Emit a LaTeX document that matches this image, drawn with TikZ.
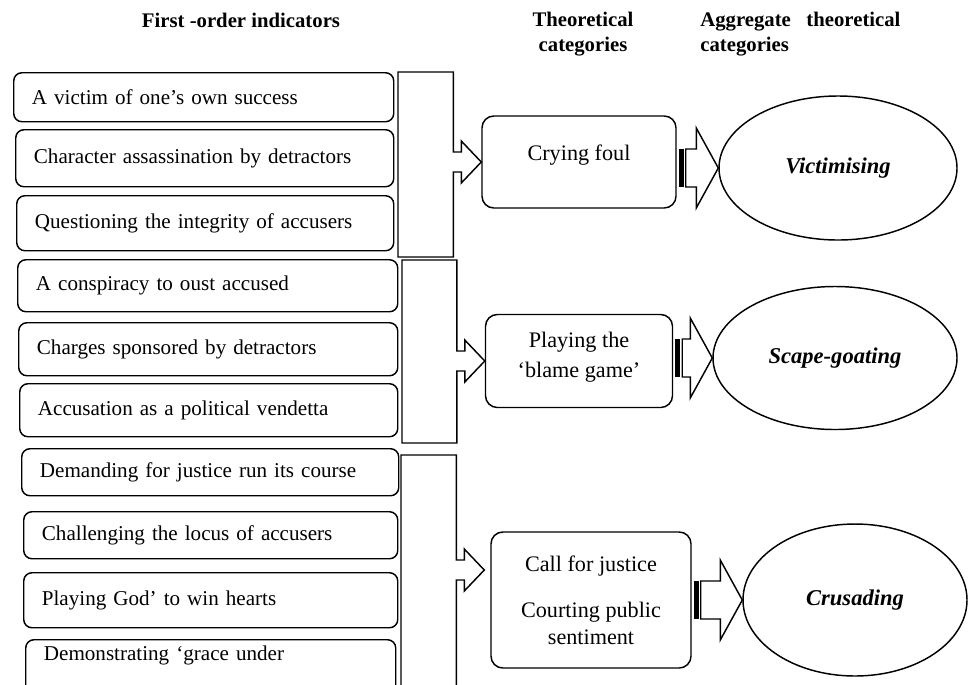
\documentclass[tikz,border=0pt]{standalone}
\usepackage{fontspec}
\setmainfont{Liberation Serif}
\usepackage{tikz}
\usetikzlibrary{shapes.geometric,positioning,calc}

% one pixel of the layout
\newcommand{\pxu}{0.55pt}

% bracket with arrow: left x, top y, bottom y, tip
\newcommand{\bracketarrow}[4]{%
    \draw[bracket] (#1,#2) -| ($(#4)+(-28,-10)$) -- ++(8,0) -- ++(0,-11) -- (#4)
        -- ($(#4)+(-20,21)$) -- ++(0,-11) -- ++(-8,0) |- (#1,#3) -- cycle;}

% striped block arrow from a category to its aggregate
\newcommand{\stripedarrow}[2]{%
    \fill ($(#1.east |- #2.west)+(2,-19)$) rectangle ++(5,38);
    \draw[bracket] ($(#1.east |- #2.west)+(9,-19)$) -| ($(#2.west)+(-22,-40)$) -- (#2.west)
        -- ($(#2.west)+(-22,40)$) |- ($(#1.east |- #2.west)+(9,19)$) -- cycle;}

\begin{document}
\begin{tikzpicture}[
    x=\pxu, y=-\pxu,
    font=\fontsize{11.6}{13.5}\selectfont,
    header/.style={font=\fontsize{11.4}{14}\selectfont\bfseries, inner sep=0pt},
    indicator/.style={draw, line width=0.8pt, rounded corners=4.5pt, anchor=north west,
        text width=#1*\pxu-20pt, inner xsep=10pt, align=left},
    indicator/.default=378,
    category/.style={draw, line width=0.8pt, rounded corners=6.5pt, align=center,
        font=\fontsize{12.2}{16.5}\selectfont},
    aggregate/.style={draw, line width=0.8pt, ellipse, inner sep=0pt,
        font=\fontsize{12.4}{14}\selectfont\bfseries\itshape},
    bracket/.style={draw, line width=0.8pt, fill=white, line join=miter}
]
    \useasboundingbox (0,0) rectangle (968,684);

    % Headers
    \node[header] (h1) at (241,20) {First -order indicators};
    \node[header, align=center] (h2) at (583,34) {Theoretical\\categories};
    \node[header, align=left, anchor=west] (h3) at (700,34) {Aggregate\hspace{0.5em} theoretical\\categories};

    % First-order indicators
    \node[indicator=380, minimum height=49*\pxu] (i1) at (13,72) {A victim of one's own success};
    \node[indicator=378, minimum height=57*\pxu] (i2) at (15,129) {Character assassination by detractors};
    \node[indicator=377, minimum height=55*\pxu] (i3) at (16,195) {Questioning the integrity of accusers};
    \node[indicator=380, minimum height=52*\pxu] (i4) at (17,259) {A conspiracy to oust accused};
    \node[indicator=379, minimum height=53*\pxu] (i5) at (18,322) {Charges sponsored by detractors};
    \node[indicator=378, minimum height=53*\pxu] (i6) at (19,383) {Accusation as a political vendetta};
    \node[indicator=377, minimum height=47*\pxu] (i7) at (21,448) {Demanding for justice run its course};
    \node[indicator=374, minimum height=47*\pxu] (i8) at (23,511) {Challenging the locus of accusers};
    \node[indicator=374, minimum height=55*\pxu] (i9) at (23,572) {Playing God' to win hearts};
    \node[indicator=370, minimum height=60*\pxu] (i10) at (25,639) {Demonstrating `grace under\\[2pt]\strut};

    % Theoretical categories
    \node[category, minimum width=194*\pxu, minimum height=92*\pxu, text depth=10pt] (c1) at (579,162) {Crying foul};
    \node[category, minimum width=187*\pxu, minimum height=93*\pxu, text depth=7pt] (c2) at (579,361) {Playing the\\`blame game'};
    \node[category, minimum width=200*\pxu, minimum height=136*\pxu] (c3) at (591,600) {Call for justice\\[9pt]Courting public\\[-2pt]sentiment};

    % Aggregate theoretical categories
    \node[aggregate, minimum width=238*\pxu, minimum height=144*\pxu] (a1) at (838,168) {Victimising};
    \node[aggregate, minimum width=244*\pxu, minimum height=143*\pxu] (a2) at (835,358) {Scape-goating};
    \node[aggregate, minimum width=224*\pxu, minimum height=152*\pxu] (a3) at (855,600) {Crusading};

    % Brackets
    \coordinate (t3) at ($(c3.west)+(-6,-30)$);
    \bracketarrow{398}{72}{257}{c1.west}
    \bracketarrow{402}{260}{443}{c2.west}
    \bracketarrow{401}{455}{720}{t3}

    % Arrows to aggregates
    \stripedarrow{c1}{a1}
    \stripedarrow{c2}{a2}
    \stripedarrow{c3}{a3}

\end{tikzpicture}
\end{document}
